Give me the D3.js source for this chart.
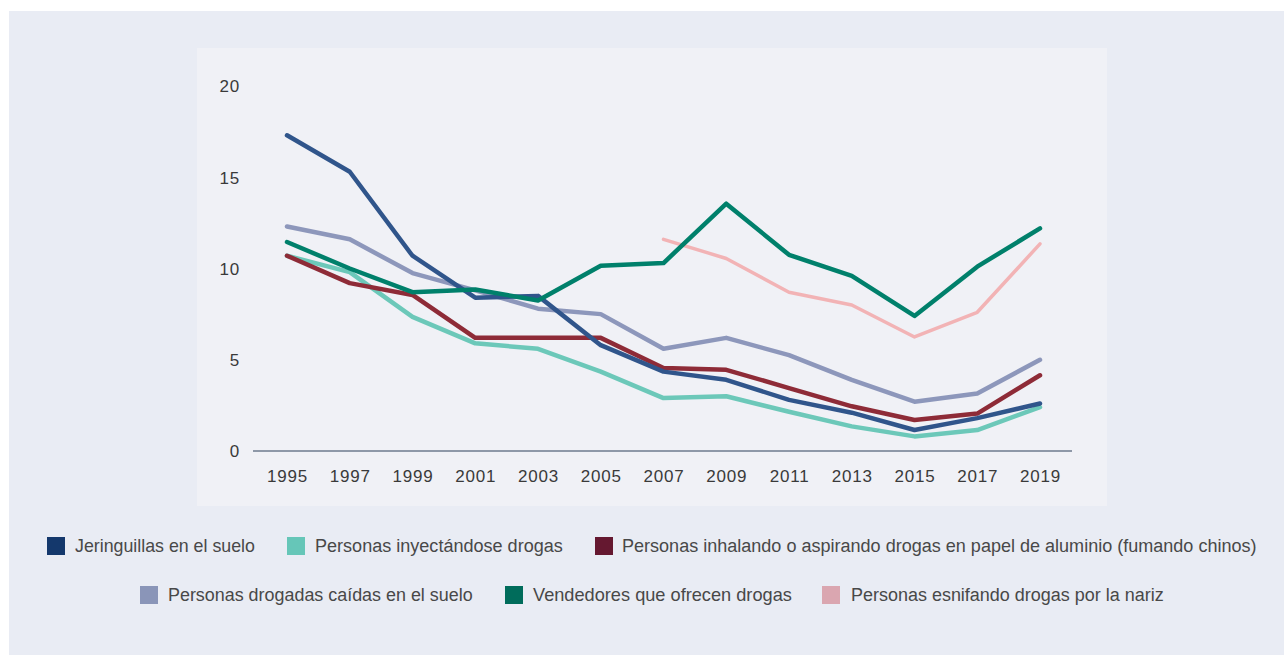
<!DOCTYPE html>
<html><head><meta charset="utf-8">
<script src="https://cdn.jsdelivr.net/npm/d3@7"></script>
<style>
html,body{margin:0;padding:0;background:#fff;}
svg{display:block;}
</style></head>
<body>
<script>
const years = [1995,1997,1999,2001,2003,2005,2007,2009,2011,2013,2015,2017,2019];
const yTicks = [0,5,10,15,20];
const jeringuillas = [17.3,15.3,10.7,8.4,8.5,5.8,4.35,3.9,2.8,2.1,1.15,1.8,2.6];
const inyectandose = [10.7,9.8,7.35,5.9,5.6,4.35,2.9,3.0,2.15,1.35,0.8,1.15,2.4];
const inhalando = [10.7,9.2,8.55,6.2,6.2,6.2,4.55,4.45,3.45,2.45,1.7,2.05,4.15];
const caidas = [12.3,11.6,9.75,8.8,7.8,7.5,5.6,6.2,5.25,3.9,2.7,3.15,5.0];
const vendedores = [11.45,10.0,8.7,8.85,8.25,10.15,10.3,13.55,10.75,9.6,7.4,10.1,12.2];
const esnifando = [null,null,null,null,null,null,11.6,10.55,8.7,8.0,6.25,7.6,11.35];
const seriesNames = [
  "Jeringuillas en el suelo",
  "Personas inyectándose drogas",
  "Personas inhalando o aspirando drogas en papel de aluminio (fumando chinos)",
  "Personas drogadas caídas en el suelo",
  "Vendedores que ofrecen drogas",
  "Personas esnifando drogas por la nariz"
];

const W = 1284, H = 655;
const svg = d3.select("body").append("svg").attr("width", W).attr("height", H);
svg.append("rect").attr("x",9).attr("y",11).attr("width",W-9).attr("height",H-11).attr("fill","#e9ecf4");
svg.append("rect").attr("x",197).attr("y",48).attr("width",910).attr("height",458).attr("fill","#f0f1f6");

const x = d3.scalePoint().domain(years).range([287,1040]);
const y = d3.scaleLinear().domain([0,20]).range([451,86]);

const font = "'Liberation Sans', Arial, sans-serif";

// y tick labels
const yAxis = d3.axisLeft(y).tickValues(yTicks).tickSize(0).tickPadding(0).tickFormat(d3.format("d"));
const gy = svg.append("g").attr("transform","translate(240,0)").call(yAxis);
gy.select(".domain").remove();
gy.selectAll("text").attr("font-family",font).attr("font-size",17).attr("letter-spacing","0.8px")
  .attr("fill","#3a3a3a").attr("dy","0.34em");

// x axis
const xAxis = d3.axisBottom(x).tickSize(0).tickPadding(0).tickFormat(d3.format("d"));
const gx = svg.append("g").attr("transform","translate(0,451)").call(xAxis);
gx.select(".domain").remove();
gx.selectAll("text").attr("font-family",font).attr("font-size",17).attr("letter-spacing","0.8px")
  .attr("fill","#3a3a3a").attr("dy","0").attr("y",31);
svg.append("line").attr("x1",253).attr("x2",1072).attr("y1",451).attr("y2",451)
  .attr("stroke","#8e98a8").attr("stroke-width",2);

const line = d3.line().defined(d=>d[1]!=null).x(d=>x(d[0])).y(d=>y(d[1]));
const draw = [
  {v:esnifando, c:"#f2b3b5", w:3.5},
  {v:caidas, c:"#8d97bb", w:4.5},
  {v:inyectandose, c:"#6cc8b9", w:4.5},
  {v:inhalando, c:"#8e2b37", w:4.5},
  {v:jeringuillas, c:"#30558b", w:4.5},
  {v:vendedores, c:"#00806b", w:4.5}
];
draw.forEach(s=>{
  svg.append("path").datum(years.map((yr,i)=>[yr,s.v[i]]))
    .attr("d",line).attr("fill","none").attr("stroke",s.c).attr("stroke-width",s.w)
    .attr("stroke-linejoin","round").attr("stroke-linecap","round");
});

// legend
const legColors = ["#14386c","#66c6b8","#651830","#8a95b8","#006c5b","#daa6b0"];
const legPos = [
  {sx:47, tx:75, tw:180, cy:546},
  {sx:287, tx:315, tw:248, cy:546},
  {sx:595, tx:622, tw:635, cy:546},
  {sx:140, tx:168, tw:305, cy:595},
  {sx:505, tx:533, tw:259, cy:595},
  {sx:822, tx:851, tw:313, cy:595}
];
seriesNames.forEach((n,i)=>{
  const p = legPos[i];
  svg.append("rect").attr("x",p.sx).attr("y",p.cy-9).attr("width",18).attr("height",18).attr("fill",legColors[i]);
  const t = svg.append("text").attr("x",p.tx).attr("y",p.cy).attr("dy","0.35em")
    .attr("font-family",font).attr("font-size",17).attr("fill","#484848").text(n);
  const len = t.node().getComputedTextLength();
  t.attr("font-size", 17*p.tw/len);
});
</script>
</body></html>
